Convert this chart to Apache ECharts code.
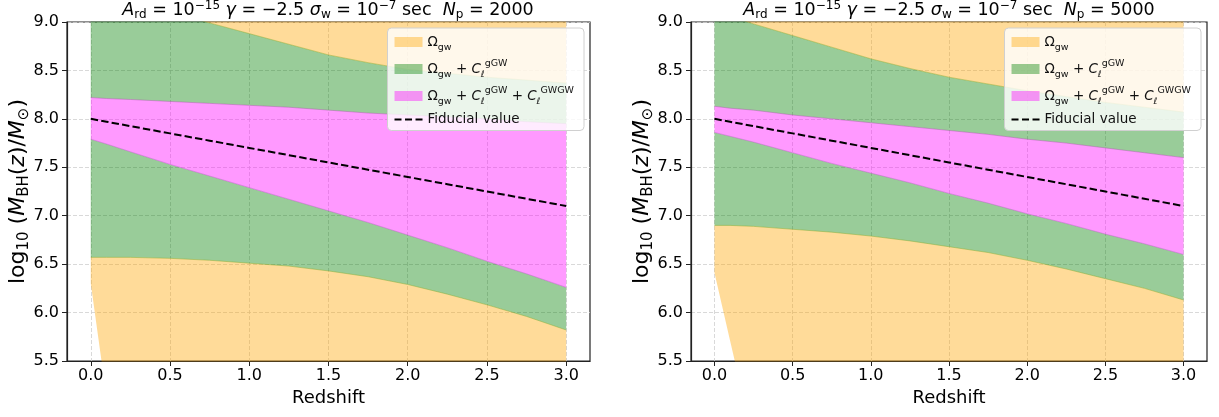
<!DOCTYPE html>
<html>
<head>
<meta charset="utf-8">
<title>M_BH constraints</title>
<script src="https://cdn.jsdelivr.net/npm/echarts@6/dist/echarts.min.js"></script>
<style>
  html, body { margin: 0; padding: 0; background: #fff; }
  #chart { width: 1219px; height: 417px; }
</style>
</head>
<body>
<div id="chart"></div>
<script>
  // redshift samples shared by every curve
  const redshift = [0, 0.1, 0.25, 0.5, 0.75, 1.0, 1.25, 1.5, 1.75, 2.0, 2.25, 2.5, 2.75, 3.0]
  const xTicks = [0, 0.5, 1.0, 1.5, 2.0, 2.5, 3.0]

  // left panel, Np = 2000
  const orangeLowL = [6.30, 5.12, 4.80, 4.60, 4.50, 4.40, 4.30, 4.20, 4.10, 4.00, 3.90, 3.80, 3.70, 3.60]
  const greenLowL = [6.57, 6.57, 6.57, 6.56, 6.54, 6.51, 6.48, 6.43, 6.37, 6.29, 6.19, 6.08, 5.96, 5.82]
  const magLowL = [7.79, 7.74, 7.66, 7.53, 7.41, 7.29, 7.17, 7.05, 6.93, 6.80, 6.67, 6.53, 6.40, 6.26]
  const magUpL = [8.22, 8.21, 8.20, 8.18, 8.16, 8.14, 8.12, 8.09, 8.06, 8.04, 8.02, 8.00, 7.97, 7.95]
  const greenUpL = [9.35, 9.30, 9.23, 9.11, 8.99, 8.88, 8.77, 8.66, 8.58, 8.51, 8.47, 8.43, 8.40, 8.37]
  const orangeUpL = [9.90, 9.90, 9.90, 9.85, 9.80, 9.75, 9.70, 9.65, 9.60, 9.55, 9.50, 9.50, 9.50, 9.50]

  // right panel, Np = 5000
  const orangeLowR = [6.41, 5.71, 4.66, 4.50, 4.40, 4.30, 4.20, 4.10, 4.00, 3.90, 3.80, 3.70, 3.60, 3.50]
  const greenLowR = [6.90, 6.90, 6.89, 6.86, 6.83, 6.79, 6.74, 6.68, 6.62, 6.54, 6.45, 6.35, 6.25, 6.13]
  const magLowR = [7.86, 7.82, 7.76, 7.65, 7.54, 7.44, 7.34, 7.23, 7.13, 7.02, 6.92, 6.81, 6.71, 6.60]
  const magUpR = [8.13, 8.11, 8.09, 8.04, 8.00, 7.96, 7.92, 7.88, 7.84, 7.79, 7.75, 7.70, 7.65, 7.60]
  const greenUpR = [9.12, 9.06, 8.98, 8.86, 8.74, 8.62, 8.52, 8.43, 8.36, 8.29, 8.23, 8.17, 8.12, 8.07]
  const orangeUpR = [9.70, 9.70, 9.65, 9.60, 9.55, 9.50, 9.45, 9.40, 9.40, 9.40, 9.40, 9.40, 9.40, 9.40]

  // fiducial log10 M_BH
  const fiducial = [8.00, 7.97, 7.925, 7.85, 7.775, 7.70, 7.625, 7.55, 7.475, 7.40, 7.325, 7.25, 7.175, 7.10]

  const NAME_O = 'Ωgw'
  const NAME_G = 'Ωgw + CgGW'
  const NAME_M = 'Ωgw + CgGW + CGWGW'
  const NAME_F = 'Fiducial value'

  const ORANGE = 'rgba(255,165,0,0.4)'
  const GREEN = 'rgba(0,128,0,0.4)'
  const MAGENTA = 'rgba(255,0,255,0.4)'
  const FONT = 'DejaVu Sans'

  const legendRich = {
    n: { fontFamily: FONT, fontSize: 13.5, color: '#111', lineHeight: 21 },
    i: { fontFamily: FONT, fontSize: 13.5, color: '#111', fontStyle: 'italic', lineHeight: 21 },
    s: { fontFamily: FONT, fontSize: 9.5, color: '#111', lineHeight: 11, verticalAlign: 'bottom' },
    si: { fontFamily: FONT, fontSize: 9, color: '#111', fontStyle: 'italic', lineHeight: 11, verticalAlign: 'bottom' },
    p: { fontFamily: FONT, fontSize: 9.5, color: '#111', lineHeight: 12, verticalAlign: 'top' }
  }
  const legendLabels = {}
  legendLabels[NAME_O] = '{n|Ω}{s|gw}'
  legendLabels[NAME_G] = '{n|Ω}{s|gw}{n| + }{i|C}{si|ℓ}{p|gGW}'
  legendLabels[NAME_M] = '{n|Ω}{s|gw}{n| + }{i|C}{si|ℓ}{p|gGW}{n| + }{i|C}{si|ℓ}{p|GWGW}'
  legendLabels[NAME_F] = '{n|Fiducial value}'

  const titleRich = {
    n: { fontFamily: FONT, fontSize: 17.5, fontWeight: 'normal', color: '#000', lineHeight: 21 },
    i: { fontFamily: FONT, fontSize: 17.5, fontWeight: 'normal', color: '#000', fontStyle: 'italic', lineHeight: 21 },
    s: { fontFamily: FONT, fontSize: 12, fontWeight: 'normal', color: '#000', lineHeight: 12, verticalAlign: 'bottom' },
    p: { fontFamily: FONT, fontSize: 12, fontWeight: 'normal', color: '#000', lineHeight: 12, verticalAlign: 'top' }
  }
  function titleText(np) {
    return '{i|A}{s|rd}{n| = 10}{p|−15}{n| }{i|γ}{n| = −2.5 }{i|σ}{s|w}{n| = 10}{p|−7}{n| sec  }{i|N}{s|p}{n| = ' + np + '}'
  }

  const yNameRich = {
    n: { fontFamily: FONT, fontSize: 22, color: '#000', lineHeight: 28 },
    i: { fontFamily: FONT, fontSize: 22, color: '#000', fontStyle: 'italic', lineHeight: 28 },
    s: { fontFamily: FONT, fontSize: 15, color: '#000', lineHeight: 15, verticalAlign: 'bottom' }
  }
  const yName = '{n|log}{s|10}{n| (}{i|M}{s|BH}{n|(}{i|z}{n|)/}{i|M}{s|⊙}{n|)}'

  const grids = [
    { left: 67, top: 22, width: 523, height: 339 },
    { left: 691, top: 22, width: 516, height: 339 }
  ]

  // value first, redshift second, so the stack sums the y values
  function pairs(vals) {
    return redshift.map((z, k) => [vals[k], z])
  }
  function diff(hi, lo) {
    return redshift.map((z, k) => [+(hi[k] - lo[k]).toFixed(4), z])
  }

  function bandSeries(g, name, color, data, edge) {
    return {
      name: name,
      type: 'line',
      xAxisIndex: g,
      yAxisIndex: g,
      stack: 'band' + g,
      encode: { x: 1, y: 0 },
      data: data,
      symbol: 'none',
      silent: true,
      lineStyle: { width: 0.8, color: edge },
      itemStyle: { color: color },
      areaStyle: { color: color, opacity: 1 },
      emphasis: { disabled: true }
    }
  }

  function panelSeries(g, low, gLow, mLow, mUp, gUp, oUp) {
    return [
      {
        name: '_base' + g,
        type: 'line',
        xAxisIndex: g,
        yAxisIndex: g,
        stack: 'band' + g,
        encode: { x: 1, y: 0 },
        data: pairs(low),
        symbol: 'none',
        silent: true,
        lineStyle: { width: 0, opacity: 0 }
      },
      bandSeries(g, NAME_O, ORANGE, diff(gLow, low), 'rgba(140,170,40,0.6)'),
      bandSeries(g, NAME_G, GREEN, diff(mLow, gLow), 'rgba(190,90,200,0.6)'),
      bandSeries(g, NAME_M, MAGENTA, diff(mUp, mLow), 'rgba(170,90,170,0.6)'),
      bandSeries(g, NAME_G, GREEN, diff(gUp, mUp), 'rgba(150,170,40,0.6)'),
      bandSeries(g, NAME_O, ORANGE, diff(oUp, gUp), 'rgba(255,165,0,0)'),
      {
        name: NAME_F,
        type: 'line',
        xAxisIndex: g,
        yAxisIndex: g,
        encode: { x: 1, y: 0 },
        data: pairs(fiducial),
        symbol: 'none',
        silent: true,
        itemStyle: { color: '#000' },
        lineStyle: { color: '#000', width: 2, type: [7.4, 3.2] },
        z: 5
      }
    ]
  }

  function xAxisFor(g) {
    return {
      type: 'value',
      gridIndex: g,
      min: -0.15,
      max: 3.15,
      name: 'Redshift',
      nameLocation: 'middle',
      nameGap: 26,
      nameTextStyle: { fontFamily: FONT, fontSize: 18, color: '#000' },
      axisLine: { show: true, onZero: false, lineStyle: { color: '#222', width: 1.2 } },
      axisTick: { show: true, length: 5, customValues: xTicks, lineStyle: { color: '#222' } },
      axisLabel: {
        customValues: xTicks,
        margin: 7,
        fontFamily: FONT, fontSize: 16, color: '#000',
        formatter: v => v.toFixed(1)
      },
      splitLine: { show: true, lineStyle: { color: '#cfcfcf', type: [4, 2], width: 0.8 } }
    }
  }

  function yAxisFor(g) {
    return {
      type: 'value',
      gridIndex: g,
      min: 5.5,
      max: 9.0,
      interval: 0.5,
      name: yName,
      nameLocation: 'middle',
      nameRotate: 90,
      nameGap: 35,
      nameMoveOverlap: false,
      nameTextStyle: { rich: yNameRich },
      axisLine: { show: true, onZero: false, lineStyle: { color: '#222', width: 1.2 } },
      axisTick: { show: true, length: 5, lineStyle: { color: '#222' } },
      axisLabel: {
        margin: 8,
        fontFamily: FONT, fontSize: 16, color: '#000',
        formatter: v => v.toFixed(1)
      },
      splitLine: { show: true, lineStyle: { color: '#cfcfcf', type: [4, 2], width: 0.8 } }
    }
  }

  function legendFor(right) {
    return {
      orient: 'vertical',
      right: right,
      top: 28,
      padding: [7, 10, 4, 7],
      itemWidth: 28,
      itemHeight: 10,
      itemGap: 6,
      backgroundColor: 'rgba(255,255,255,0.8)',
      borderColor: '#d0d0d0',
      borderWidth: 1,
      borderRadius: 4,
      selectedMode: false,
      textStyle: { rich: legendRich },
      formatter: name => legendLabels[name],
      data: [
        { name: NAME_O, icon: 'rect', itemStyle: { color: ORANGE, borderWidth: 0 } },
        { name: NAME_G, icon: 'rect', itemStyle: { color: GREEN, borderWidth: 0 } },
        { name: NAME_M, icon: 'rect', itemStyle: { color: MAGENTA, borderWidth: 0 } },
        { name: NAME_F, icon: 'path://M0,0h7v2h-7zM10.5,0h7v2h-7zM21,0h7v2h-7z', itemStyle: { color: '#000' } }
      ]
    }
  }

  const chart = echarts.init(document.getElementById('chart'), null, { renderer: 'canvas' })
  chart.setOption({
    animation: false,
    backgroundColor: '#fff',
    title: [
      { text: titleText(2000), left: 328, top: 0, textAlign: 'center', padding: 0, textStyle: { rich: titleRich } },
      { text: titleText(5000), left: 949, top: 0, textAlign: 'center', padding: 0, textStyle: { rich: titleRich } }
    ],
    legend: [legendFor(635), legendFor(18)],
    grid: grids.map(gr => Object.assign({ show: true, borderColor: '#222', borderWidth: 1.2, backgroundColor: 'transparent' }, gr)),
    xAxis: [xAxisFor(0), xAxisFor(1)],
    yAxis: [yAxisFor(0), yAxisFor(1)],
    series: [].concat(
      panelSeries(0, orangeLowL, greenLowL, magLowL, magUpL, greenUpL, orangeUpL),
      panelSeries(1, orangeLowR, greenLowR, magLowR, magUpR, greenUpR, orangeUpR)
    )
  })
</script>
</body>
</html>
